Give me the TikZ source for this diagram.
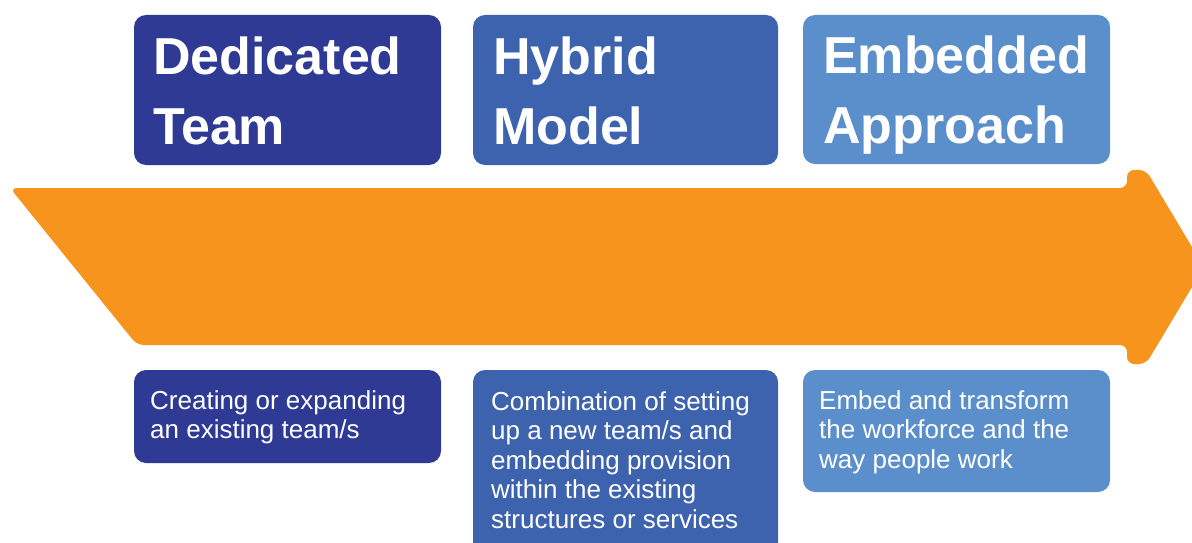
\documentclass[tikz,border=0pt]{standalone}
\usepackage{fontspec}
\setmainfont{Liberation Sans}
\definecolor{orangeA}{HTML}{F7941D}
\definecolor{blueA}{HTML}{2E3A94}
\definecolor{blueB}{HTML}{3D62AE}
\definecolor{blueC}{HTML}{5B8FCB}
\begin{document}
\begin{tikzpicture}[x=1pt,y=-1pt,
  card/.style={fill=#1, rounded corners=12pt, draw=none},
  title/.style={anchor=north west, inner sep=0pt, align=left, text=white,
     font=\fontsize{52}{70}\selectfont\bfseries},
  desc/.style={anchor=north west, inner sep=0pt, align=left, text=white,
     font=\fontsize{26}{29.5}\selectfont}]
\useasboundingbox (0,0) rectangle (1192,543);
\begin{scope}
\clip (0,0) rectangle (1192,543);
% arrow
\fill[orangeA, rounded corners=7pt] (10,188) -- (1127,188) -- (1127,170) -- (1146,170)
   -- (1204,267) -- (1146,364) -- (1127,364) -- (1127,345) -- (137,345) -- cycle;
% top cards
\path[card=blueA] (134,15) rectangle (441,165);
\path[card=blueB] (473,15) rectangle (778,165);
\path[card=blueC] (803,15) rectangle (1110,164);
% bottom cards
\path[card=blueA] (134,370) rectangle (441,463);
\path[card=blueB] (473,370) rectangle (778,560);
\path[card=blueC] (803,370) rectangle (1110,492);
\end{scope}
\node[title] (t1) at (153,37) {Dedicated\\Team};
\node[title] (t2) at (493,37) {Hybrid\\Model};
\node[title] (t3) at (823,36) {Embedded\\Approach};
\node[desc] (d1) at (150,390) {Creating or expanding\\an existing team/s};
\node[desc] (d2) at (491,391) {Combination of setting\\up a new team/s and\\embedding provision\\within the existing\\structures or services};
\node[desc] (d3) at (819,390) {Embed and transform\\the workforce and the\\way people work};
\end{tikzpicture}
\end{document}
